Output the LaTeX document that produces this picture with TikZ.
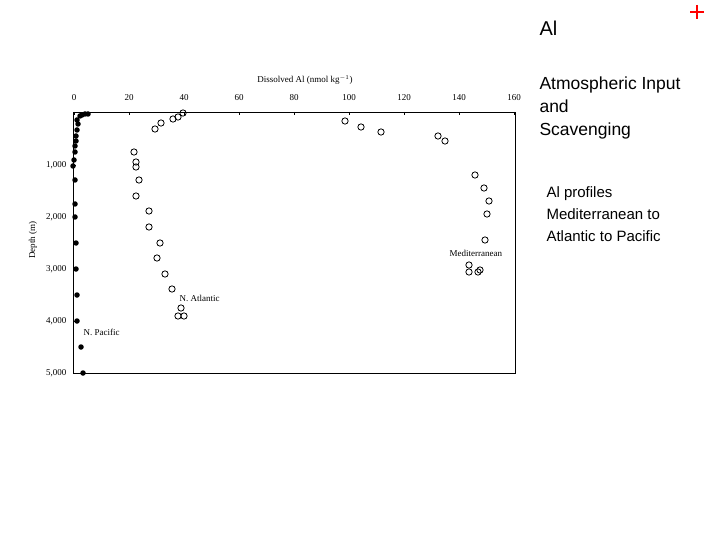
\documentclass[tikz,border=0pt]{standalone}
\usepackage{fontspec}
\setmainfont{Liberation Serif}
\newfontfamily\arial{Liberation Sans}
\begin{document}
\begin{tikzpicture}[x=1pt,y=-1pt,
  oc/.style={circle,draw,thick,inner sep=0pt,minimum size=6.3pt},
  fc/.style={circle,fill,inner sep=0pt,minimum size=5.5pt},
  tk/.style={font=\fontsize{9}{9}\selectfont},
  rt/.style={font=\arial\fontsize{17.5}{23}\selectfont,anchor=west,align=left},
  rt2/.style={font=\arial\fontsize{15}{22}\selectfont,anchor=west,align=left}]
\useasboundingbox (0,0) rectangle (720,540);
\node[draw,line width=1.2pt,minimum width=442pt,minimum height=261pt,anchor=north west,inner sep=0pt] (frame) at (73,112) {};
\foreach \v in {0,20,...,160}{\node[tk] (t\v) at ({74+2.75*\v},98) {\v};
  \draw[thick] ({74+2.75*\v},112) -- ++(0,3);}
\foreach \d/\l in {1/1{,}000,2/2{,}000,3/3{,}000,4/4{,}000,5/5{,}000}{\node[tk,anchor=east] (d\d) at (70,{113+52*\d}) {\l};
  \draw[thick] (73,{113+52*\d}) -- ++(3,0);}
\node[tk] (xl) at (305,80) {Dissolved Al (nmol kg$^{-1}$)};
\node[tk,rotate=90] (yl) at (33,240) {Depth (m)};
\foreach \x/\y [count=\i] in {183/113,178/117,173/119,161/123,155/129,134/152,136/162,136/167,139/180,136/196,149/211,149/227,160/243,157/258,165/274,172/289,181/308,178/316,184/316,345/121,361/127,381/132,438/136,445/141,475/175,484/188,489/201,487/214,485/240,469/265,469/272,478/272,480/270}
  \node[oc] (o\i) at (\x,\y) {};
\foreach \x/\y [count=\i] in {88/114,85/114,82/115,80/116,77/120,78/124,77/130,76/136,76/141,75/146,75/152,74/160,73/166,75/180,75/204,75/217,76/243,76/269,77/295,77/321,81/347,83/373}
  \node[fc] (p\i) at (\x,\y) {};
\node[tk,anchor=west] (na) at (176,298) {N. Atlantic};
\node[tk,anchor=west] (np) at (80,332) {N. Pacific};
\node[tk,anchor=west] (me) at (446,253) {Mediterranean};
\node[font=\arial\fontsize{20}{20}\selectfont,anchor=west] (al) at (536,28) {Al};
\draw[red,line width=2.5pt] (690,12) -- (704,12) (697,5) -- (697,19);
\node[rt] (ai) at (536,108) {Atmospheric Input\\and\\Scavenging};
\node[rt2] (ap) at (543,214) {Al profiles\\Mediterranean to\\Atlantic to Pacific};
\end{tikzpicture}
\end{document}
